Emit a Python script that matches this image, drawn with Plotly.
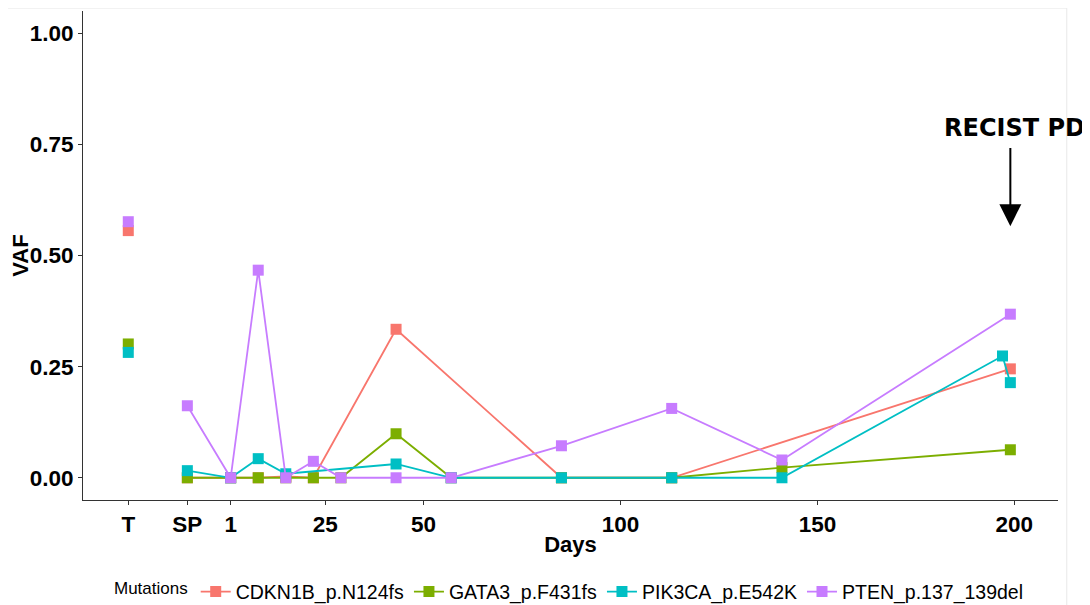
import plotly.graph_objects as go

# ---- data ----
mutations = ["CDKN1B_p.N124fs", "GATA3_p.F431fs", "PIK3CA_p.E542K", "PTEN_p.137_139del"]
colors = ["#F8766D", "#7CAE00", "#00BFC4", "#C77CFF"]

# tumour (T) sample, plotted as its own point
t_day = -25
t_vaf = [0.556, 0.301, 0.282, 0.576]

# plasma series (SP = -10, then days on treatment)
cdkn1b_days = [-10, 1, 8, 15, 22, 43, 85, 113, 199]
cdkn1b_vaf = [0.0, 0.0, 0.0, 0.003, 0.0, 0.334, 0.0, 0.0, 0.245]

gata3_days = [-10, 1, 8, 15, 22, 29, 43, 57, 85, 113, 141, 199]
gata3_vaf = [0.0, 0.0, 0.0, 0.0, 0.0, 0.0, 0.099, 0.0, 0.0, 0.0, 0.023, 0.063]

pik3ca_days = [-10, 1, 8, 15, 43, 57, 85, 113, 141, 197, 199]
pik3ca_vaf = [0.016, 0.0, 0.043, 0.009, 0.031, 0.0, 0.0, 0.0, 0.0, 0.274, 0.214]

pten_days = [-10, 1, 8, 15, 22, 29, 43, 57, 85, 113, 141, 199]
pten_vaf = [0.162, 0.0, 0.467, 0.0, 0.037, 0.0, 0.0, 0.0, 0.072, 0.156, 0.040, 0.368]

series_days = [cdkn1b_days, gata3_days, pik3ca_days, pten_days]
series_vaf = [cdkn1b_vaf, gata3_vaf, pik3ca_vaf, pten_vaf]

x_tickvals = [-25, -10, 1, 25, 50, 100, 150, 200]
x_ticktext = ["T", "SP", "1", "25", "50", "100", "150", "200"]
y_tickvals = [0, 0.25, 0.5, 0.75, 1.0]

pd_day = 199
pd_label = "RECIST PD"

# ---- figure ----
fig = go.Figure()
FONT = "Liberation Sans, Arial, sans-serif"

for i, name in enumerate(mutations):
    fig.add_trace(go.Scatter(
        x=series_days[i], y=series_vaf[i], mode="lines+markers", name=name,
        line=dict(color=colors[i], width=1.8),
        marker=dict(symbol="square", size=11, color=colors[i], line=dict(width=0)),
        legendgroup=name,
    ))
for i, name in enumerate(mutations):
    fig.add_trace(go.Scatter(
        x=[t_day], y=[t_vaf[i]], mode="markers", name=name, showlegend=False,
        marker=dict(symbol="square", size=11, color=colors[i], line=dict(width=0)),
        legendgroup=name,
    ))

axis_common = dict(
    showgrid=False, zeroline=False, showline=True, linecolor="#333333", linewidth=1,
    ticks="outside", ticklen=4, tickcolor="#333333", tickwidth=1, automargin=False,
    tickfont=dict(family=FONT, size=22.5, color="black", weight="bold"),
)

fig.update_xaxes(
    **axis_common, range=[-36.5, 211.1], tickvals=x_tickvals, ticktext=x_ticktext,
    title=dict(text="Days", font=dict(family=FONT, size=22, color="black", weight="bold"), standoff=0),
)
fig.update_yaxes(
    **axis_common, range=[-0.05, 1.05], tickvals=y_tickvals, tickformat=".2f",
    title=dict(text="VAF", font=dict(family=FONT, size=22, color="black", weight="bold"), standoff=4),
)

fig.add_annotation(
    x=1.0297, y=0.786, xref="paper", yref="y", text=pd_label, showarrow=False,
    font=dict(family="DejaVu Sans", size=24, color="black", weight="bold"),
    xanchor="right", yanchor="middle",
)
fig.add_annotation(
    x=pd_day, y=0.566, ax=pd_day, ay=0.745, xref="x", yref="y", axref="x", ayref="y",
    text="", showarrow=True, arrowhead=2, arrowsize=2.2, arrowwidth=2, arrowcolor="black", standoff=0,
)

# faint frame of the original image
fig.add_shape(type="line", xref="paper", yref="paper", x0=-0.09, x1=1.009, y0=1.006, y1=1.006,
              line=dict(color="#e8e8e8", width=1))
fig.add_shape(type="line", xref="paper", yref="paper", x0=1.009, x1=1.009, y0=1.006, y1=-0.24,
              line=dict(color="#e8e8e8", width=1))

# the page body adds an 8px offset, so the figure is sized to end at the window edge
fig.update_layout(
    width=1082, height=597,
    margin=dict(l=75, r=32, t=3, b=105),
    paper_bgcolor="white", plot_bgcolor="white",
    showlegend=True,
    legend=dict(
        orientation="h", x=0.5, xanchor="center",
        yref="container", y=0.022, yanchor="middle",
        font=dict(family=FONT, size=19.5, color="black"),
        title=dict(text="Mutations", font=dict(family=FONT, size=17, color="black"), side="left"),
        itemwidth=30, tracegroupgap=0,
    ),
)

fig.write_html("out.html")
